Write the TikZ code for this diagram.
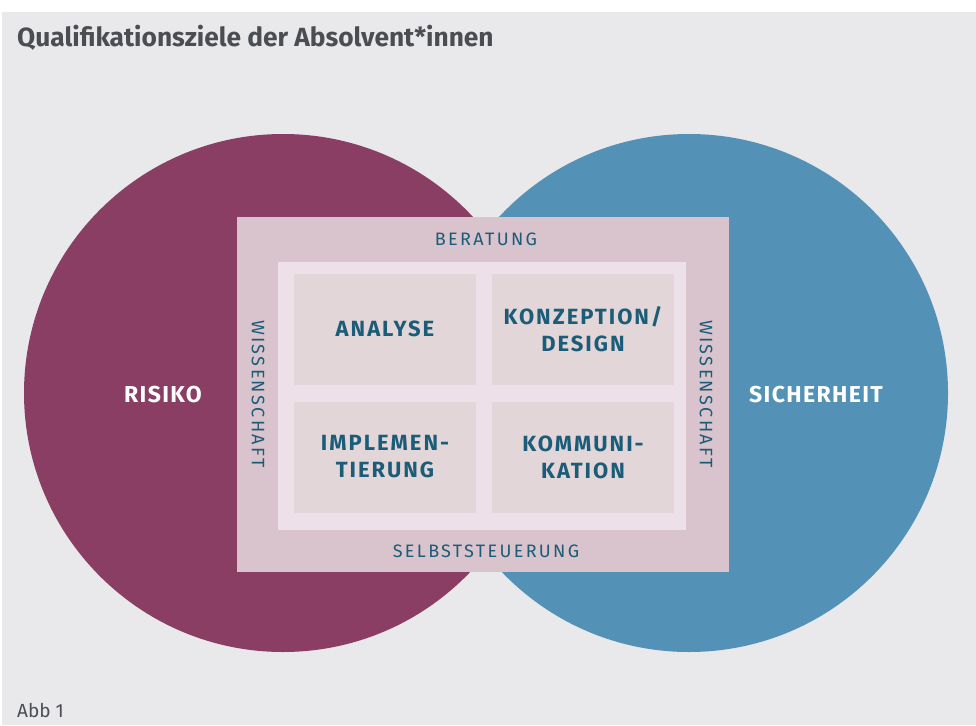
\documentclass[tikz,border=0pt]{standalone}
\usepackage{fontspec}
\setmainfont{Fira Sans}
\newfontfamily\ringfont[LetterSpace=13]{Fira Sans}
\newfontfamily\quadfont[LetterSpace=9]{Fira Sans}
\newfontfamily\polefont[LetterSpace=6]{Fira Sans}
\usepackage{tikz}
\usetikzlibrary{positioning}
\definecolor{bgray}{HTML}{E9E9EB}
\definecolor{risk}{HTML}{8A3E64}
\definecolor{safe}{HTML}{5391B6}
\definecolor{outerbox}{HTML}{D9C3CC}
\definecolor{innerbox}{HTML}{EEE0E8}
\definecolor{quadbox}{HTML}{E3D6D8}
\definecolor{ink}{HTML}{1B5C78}
\definecolor{titleink}{HTML}{4A4D52}
\tikzset{
sphere/.style={shape=circle, minimum size=518pt, inner sep=0},
quad/.style={shape=rectangle, fill=quadbox, minimum width=182pt, minimum height=111pt, inner sep=0, align=center, text=ink, font=\quadfont\fontsize{22}{27}\selectfont\bfseries},
ring/.style={text=ink, font=\ringfont\fontsize{18}{20}\selectfont},
pole/.style={text=white, font=\polefont\fontsize{23}{26}\selectfont\bfseries}}
\begin{document}
\begin{tikzpicture}[x=1pt, y=-1pt]
\fill[white] (0,0) rectangle (976,725);
\fill[bgray] (2,12) rectangle (976,725);
\useasboundingbox (0,0) rectangle (976,725);
\node [sphere, fill=risk] at (283,393) (risk) {};
\node [sphere, fill=safe] at (689,393) (safe) {};
\node [fill=outerbox, minimum width=492pt, minimum height=355pt, inner sep=0] at (483,394.5) (outer) {};
\node [fill=innerbox, minimum width=408pt, minimum height=268pt, inner sep=0] at (482,396) (inner) {};
\foreach \qtext [count=\q, evaluate={\qx=int(385+198*mod(\q-1,2)); \qy=int(329.5+127.5*int((\q-1)/2));}] in {ANALYSE, KONZEPTION/\\DESIGN, IMPLEMEN-\\TIERUNG, KOMMUNI-\\KATION}{
      \node [quad] at (\qx, \qy) (q-\q) {\qtext};
}
\node [ring] at (486,239) (beratung) {BERATUNG};
\node [ring] at (486,551) (selbst) {SELBSTSTEUERUNG};
\node [ring, rotate=-90] at (258,394) (wiss-l) {WISSENSCHAFT};
\node [ring, rotate=-90] at (706,394) (wiss-r) {WISSENSCHAFT};
\node [pole] at (163,395) (risiko) {RISIKO};
\node [pole] at (816,395) (sicher) {SICHERHEIT};
\node [anchor=base west, text=titleink, font=\fontsize{26.3}{29}\selectfont\bfseries, inner sep=0] at (17,47) (title) {Qualifikationsziele der Absolvent*innen};
\node [anchor=base west, text=titleink, font=\fontsize{19}{21}\selectfont, inner sep=0] at (17,717) (abb) {Abb 1};
\end{tikzpicture}
\end{document}
